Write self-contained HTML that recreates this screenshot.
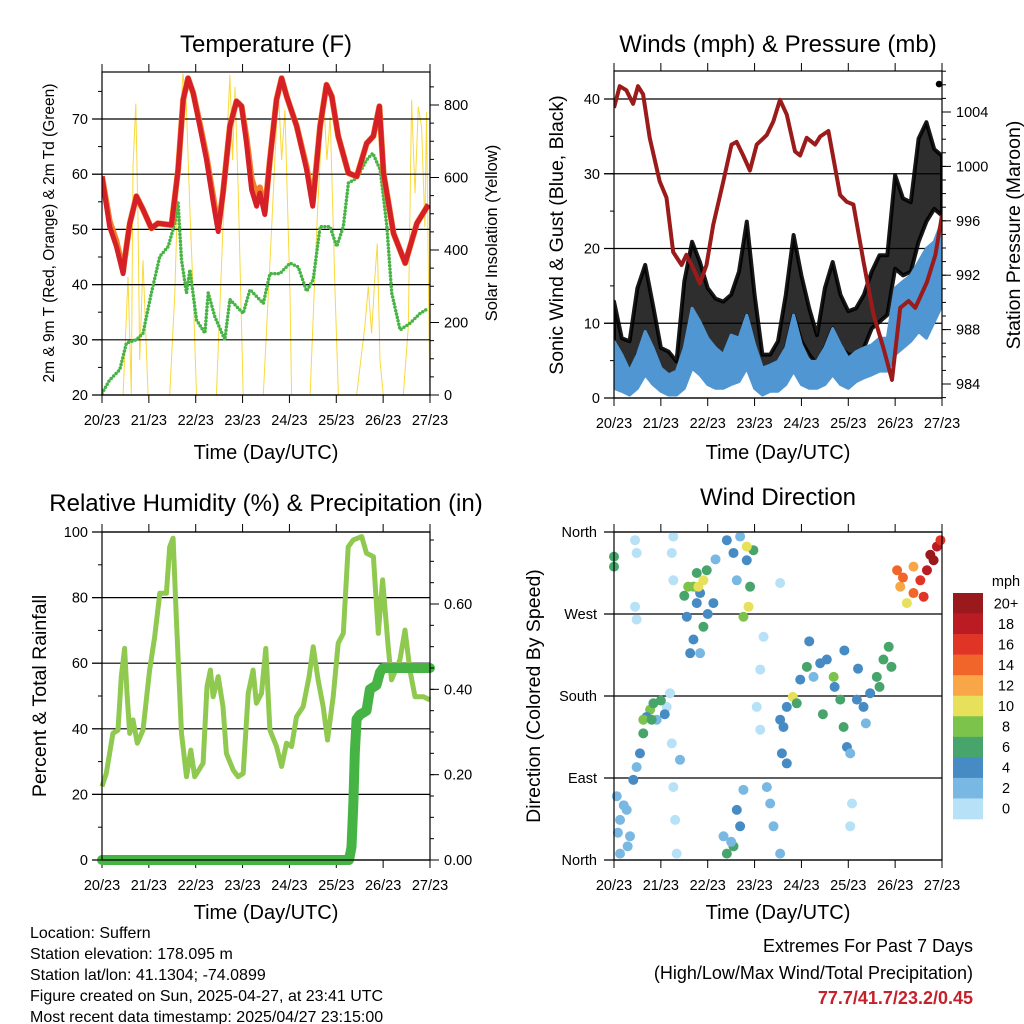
<!DOCTYPE html>
<html><head><meta charset="utf-8"><style>
html,body{margin:0;padding:0;background:#fff;}
svg{display:block;font-family:"Liberation Sans",Arial,sans-serif;}
</style></head><body>
<svg id="fig" width="1024" height="1024" viewBox="0 0 1024 1024" xmlns="http://www.w3.org/2000/svg">
<rect width="1024" height="1024" fill="#fff"/>
<text x="266" y="52" font-size="24" text-anchor="middle">Temperature (F)</text>
<text x="778" y="52" font-size="24" text-anchor="middle">Winds (mph) &amp; Pressure (mb)</text>
<text x="266" y="511" font-size="24" text-anchor="middle">Relative Humidity (%) &amp; Precipitation (in)</text>
<text x="778" y="505" font-size="24" text-anchor="middle">Wind Direction</text>
<text x="266" y="459" font-size="20" text-anchor="middle">Time (Day/UTC)</text>
<text x="778" y="459" font-size="20" text-anchor="middle">Time (Day/UTC)</text>
<text x="266" y="919" font-size="20" text-anchor="middle">Time (Day/UTC)</text>
<text x="778" y="919" font-size="20" text-anchor="middle">Time (Day/UTC)</text>
<text transform="translate(54,233) rotate(-90)" font-size="15.5" text-anchor="middle">2m &amp; 9m T (Red, Orange) &amp; 2m Td (Green)</text>
<text transform="translate(497,233) rotate(-90)" font-size="16.5" text-anchor="middle">Solar Insolation (Yellow)</text>
<text transform="translate(563,235) rotate(-90)" font-size="19.5" text-anchor="middle">Sonic Wind &amp; Gust (Blue, Black)</text>
<text transform="translate(1020,235) rotate(-90)" font-size="19.5" text-anchor="middle">Station Pressure (Maroon)</text>
<text transform="translate(46,696) rotate(-90)" font-size="19.5" text-anchor="middle">Percent &amp; Total Rainfall</text>
<text transform="translate(540,696) rotate(-90)" font-size="19.5" text-anchor="middle">Direction (Colored By Speed)</text>
<g font-size="16">
<text x="30" y="938">Location: Suffern</text>
<text x="30" y="959">Station elevation: 178.095 m</text>
<text x="30" y="980">Station lat/lon: 41.1304; -74.0899</text>
<text x="30" y="1001">Figure created on Sun, 2025-04-27, at 23:41 UTC</text>
<text x="30" y="1022">Most recent data timestamp: 2025/04/27 23:15:00</text>
</g>
<g font-size="18" text-anchor="end">
<text x="973" y="952">Extremes For Past 7 Days</text>
<text x="973" y="979">(High/Low/Max Wind/Total Precipitation)</text>
<text x="973" y="1004" fill="#c4212b" font-weight="bold">77.7/41.7/23.2/0.45</text>
</g>
<g id="layer"></g>
</svg>
<script>
// ---------- DATA ----------
const dayLabels = ["20/23","21/23","22/23","23/23","24/23","25/23","26/23","27/23"];
const tempHours = [0,3.9,7.4,10.8,11.6,14.2,17.6,21,25.3,28.7,35.6,39,41.6,44.1,46.7,50.1,53.5,57,59.5,62,65.5,68.9,71.5,74,76.6,79.2,80.9,83.4,86,89.4,92,94.6,99.7,104.8,107.9,111.7,115,117.7,121,126.2,130.5,135.6,139,142.1,144.2,149.3,155.3,161.3,167.2];
const tempRed = [59.6,50.5,46.9,42,44.5,51,56,53.6,50.2,51.1,50.8,60.8,73.5,77.4,74.7,68.7,62.6,54.8,49.6,56.6,68.7,73.2,72.3,65.6,57.2,54.2,56.6,52.7,62.6,73.5,77.4,74.1,68.7,60.8,54.2,68.7,76.2,74.1,66.9,60.2,59.6,65.6,66.9,72.3,60.2,49.3,43.9,51.1,54.5];
const tempOrange = [59.6,51.5,47.9,42.5,44.5,51,56,53.6,50.2,51.1,50.8,60.8,73.5,77.4,74.7,69.2,63.2,55.8,50.2,56.6,68.7,73.2,72.3,66.6,59.2,56.2,57.6,53.2,62.6,73.5,77.4,74.1,68.7,61.3,54.7,68.7,76.2,74.1,66.9,60.2,59.6,65.6,66.9,72.3,60.2,49.3,43.9,51.1,54.5];
const dewHours = [0,3.9,9.1,12.5,17.6,21,25.3,29.6,33.9,37.3,39,40.7,43.3,45,48.4,52.7,54.4,57.8,62.9,65.5,72.3,75.8,82.6,86,91.1,96.3,100.5,104.8,108.2,111.7,116.8,120.2,123.6,126.2,130.5,135.6,138.7,142.5,145.9,148.4,152.7,157.8,163,167.2];
const dewF = [20.3,22.7,24.6,29.4,30,31.2,38.5,45.1,46.9,51.1,54.8,44.5,38.5,42.7,33.6,31.2,38.5,34.2,30,37.3,34.8,39.1,36.6,42,42,43.9,43.2,38.8,40.9,50.5,50.5,46.9,50.5,58.4,59.3,62.6,63.8,60.8,50.5,38.5,31.8,33,34.8,35.7];
const solarHours = [0,10.8,13.3,15,15.9,17.3,18.5,19.3,21,23.6,34.7,37.3,39.8,41.5,43.2,45,46.7,48.4,58.6,62,65.5,66.9,68.1,69.8,72.3,82.6,86.9,90.3,92,93.7,96.3,97.1,106.6,110,113.4,115.2,116.9,119.4,121.1,130.4,134.6,136.4,138.1,139.8,141,142.4,144.1,154.3,156.9,158.6,160.3,162,163.7,165.4,166.2,167.9];
const solarW = [0,0,326,4,630,804,464,96,372,0,0,280,740,887,804,510,280,0,0,464,883,648,850,556,0,0,464,850,648,786,280,0,0,464,832,648,768,280,0,0,188,299,170,326,418,96,0,0,188,814,556,795,740,464,780,0];
const windHours = [0,4,8,12,16,20,24,28,32,36,40,44,48,52,56,60,64,68,72,76,80,84,88,92,96,100,104,108,112,116,120,124,128,132,136,140,144,148,152,156,160,164,168];
const windHi = [7.6,5.8,3.6,5.8,8.9,6.7,4,3.1,3.6,6.7,12,10.2,8,6.7,5.8,8.4,8,11.1,7.1,4,4.4,4.9,6.7,11.1,7.1,4.9,4.9,6.7,9.3,7.1,5.3,6.2,6.7,7.1,8,8,14.7,15.6,16.4,18.2,20,20.9,23.6];
const windLo = [1.3,0.9,0.4,1.3,3.1,1.8,0.9,0.4,0.4,1.3,4,3.1,1.8,1.3,1.3,1.8,2.2,4,1.3,0.4,0.9,0.9,1.8,3.6,1.8,1.3,1.3,1.8,3.1,1.8,1.3,2.2,2.7,3.1,3.6,3.6,5.8,6.7,7.6,8.9,8,10.2,12.4];
const gustHi = [12.9,8,7.6,14.7,17.8,12.4,6.7,6.2,4.9,15.6,20.9,18.2,14.7,13.3,12.9,13.8,16.9,23.6,13.8,5.8,5.8,7.6,13.8,21.8,16.4,12,8.4,14.7,18.2,13.8,11.6,12,13.8,16.9,19.1,19.1,29.8,26.7,26.2,34.7,36.9,33.3,32.4];
const gustLo = [3.6,2.2,1.8,5.8,7.6,4.9,2.7,2.2,2.2,5.8,11.1,8.4,6.7,5.8,5.8,6.7,7.6,11.1,5.8,2.7,2.7,3.1,6.7,11.1,7.6,5.8,4.4,6.7,9.3,6.7,5.8,5.8,6.7,9.3,10.2,11.1,17.3,16.4,16.9,20.9,23.6,25.3,24.4];
const gustPeakHours = [166.5];
const gustPeakMph = [42];
const presHours = [0,2.9,6.3,9.8,12.3,14.9,18.3,23.4,26.9,30.3,34.6,37.1,40.6,44,47.4,50.8,56,60.2,62.8,66.2,69.6,73.1,78.2,81.6,85,88.5,92.7,95.3,98.7,103,105.6,109.8,115.8,119.2,122.6,127.8,132.9,138.1,142.4,146.6,150.9,154.3,160.3,164.6,168];
const presMb = [1004.3,1005.9,1005.6,1004.6,1005.9,1005.3,1002.1,998.9,997.7,993.7,992.75,993.5,992.5,991.4,992.75,995.7,998.9,1001.6,1001.8,1000.8,999.7,1001.6,1002.3,1003.3,1004.9,1003.8,1001.1,1000.8,1002.1,1001.6,1002.2,1002.6,997.9,997.4,997.2,993,989.1,986.6,984.3,989.6,990.1,989.6,991.5,993.5,996.4];
const rhHours = [0,2.2,5.6,8.2,9.9,11.6,12.8,14.2,15.9,18.1,21,24.4,27,29.6,33,34.7,36.4,38.1,40.7,43.3,45.5,47.5,51.8,53.8,55.5,56.9,59.5,62,63.7,67.2,69.7,72.3,74.9,77.4,79.1,81.7,83.9,86,89.4,92,94.5,97.1,99.6,103,106.1,108.2,110.7,113.3,115.5,118.4,121,123.6,126.1,128.7,133,135.5,139,141.5,143.7,146.6,148.3,152.6,155.2,157.7,160.3,164.6,168];
const rhPct = [22.4,26.4,38.6,39.6,55.9,64.5,50.8,38.6,42.7,35.6,39.6,57.9,68.1,81.3,81.3,95.5,98.1,73.2,38.6,25.4,33.5,25.4,29.5,52.8,57.9,49.8,55.9,46.7,32.5,27.4,25.4,26.4,50.8,57.9,47.8,50.8,64.5,39.6,34.6,28.5,35.6,34.6,43.7,46.7,55.9,65,54.9,46.7,36.6,49.8,66.1,69.1,95.5,97.6,98.6,93.5,92.5,69.1,85.4,65,54.9,61,70.1,57.9,49.8,49.8,48.8];
const rainHours = [0,126.5,127.8,128.7,129.5,130.4,132,135.5,137.2,140.6,142.4,144,168];
const rainIn = [0,0,0.03,0.13,0.25,0.33,0.34,0.35,0.40,0.41,0.44,0.45,0.45];
const dirHours = [3.1,6.5,3.1,9.9,11.6,8.2,1.4,13.3,0,0,10.8,11.6,10.8,11.6,15,18.5,16.7,20.2,21.9,27,15,19.3,28.7,29.6,30.4,31.3,32.1,33.8,30.4,29.6,30.4,37.3,39,40.7,42.4,44.1,45.8,42.4,40.7,44.1,50.9,47.5,43.2,45.8,57.8,61.2,64.6,68,69.7,68.9,71.4,62.9,68,66.3,56.1,57.8,61.2,64.6,62.9,66.3,74.9,73.1,74.9,76.6,85.1,78.3,80,81.7,85.1,86,86.8,88.5,91.6,93.6,95.4,98.8,102.2,105.6,109,112.5,115.9,117.6,119.3,121,121.9,121,124.4,127.8,131.2,134.6,138,140.7,142.1,88.5,85.1,145,146.6,150,153.4,156.9,160.3,163.7,165.4,167.2,153.4,158.6,148,162,2,5,7,24,26,36,38,48,52,60,100,107,113,118,125,129,136];
const dirDeg = [44,55,7,88,102,26,70,117,333,322,351,337,278,264,139,165,157,172,154,168,154,154,183,128,80,44,7,110,307,337,355,267,227,300,315,293,256,282,242,227,282,318,300,307,351,337,355,329,300,278,340,307,344,267,26,7,15,37,55,77,143,168,209,245,304,80,62,37,7,117,146,168,179,172,198,212,201,216,220,201,176,146,124,117,62,37,176,168,183,201,220,234,212,106,154,318,300,282,293,307,318,329,344,351,322,289,310,335,30,60,15,175,160,290,300,270,330,20,240,160,190,230,210,150,190];
const dirMph = [2,2,2,4,2,2,2,4,6,6,1,1,1,1,6,8,4,6,2,1,8,6,1,1,1,1,1,2,1,1,1,4,4,8,6,4,6,4,4,2,4,6,10,10,4,4,2,4,6,10,6,2,10,8,2,6,6,4,4,2,1,1,1,1,1,2,2,2,2,4,4,4,10,6,4,6,2,4,4,8,6,6,4,2,1,1,4,4,4,6,6,6,6,4,4,14,12,10,14,16,18,20,18,16,12,16,14,20,2,2,2,6,4,6,8,4,2,2,4,6,4,4,4,2,6];
const spdBins = [0,2,4,6,8,10,12,14,16,18,20];
const spdColors = ["#b6e1f7","#7ab8e4","#468bc4","#47a56c","#7bc34a","#e7e05a","#f8a647","#f2652a","#df3426","#bb1c24","#99191c"];
const spdLabels = ["0","2","4","6","8","10","12","14","16","18","20+"];

// ---------- HELPERS ----------
const NS = "http://www.w3.org/2000/svg";
const layer = document.getElementById("layer");
function mk(tag, attrs, parent){
  const e = document.createElementNS(NS, tag);
  for (const k in attrs) e.setAttribute(k, attrs[k]);
  (parent || layer).appendChild(e);
  return e;
}
function lin(d0,d1,r0,r1){ return v => r0 + (v-d0)*(r1-r0)/(d1-d0); }
function pts(xs, ys, sx, sy){ return xs.map((h,i)=> sx(h).toFixed(1)+","+sy(ys[i]).toFixed(1)).join(" "); }

function panel(name, x0,y0,x1,y1){
  const g = mk("g", {});
  
  
  const sx = lin(0,168,x0,x1);
  for (let d=0; d<dayLabels.length; d++){
    const x = sx(d*24);
    mk("line",{x1:x,y1:y0-8,x2:x,y2:y0,stroke:"#000","stroke-width":1},g);
    mk("line",{x1:x,y1:y1,x2:x,y2:y1+8,stroke:"#000","stroke-width":1},g);
    const t = mk("text",{x:x,y:y1+30,"font-size":14.5,"text-anchor":"middle"},g);
    t.textContent = dayLabels[d];
    
    
  }
  return {g, sx};
}
function yAxis(g, side, x0, x1, sy, majors, labels, minors, labelOff){
  const xe = side==="left" ? x0 : x1;
  minors.forEach(v=>{
    const y = sy(v);
    mk("line",{x1:xe, y1:y, x2: side==="left"? xe-4 : xe+4, y2:y, stroke:"#000","stroke-width":1},g);
  });
  majors.forEach((v,i)=>{
    const y = sy(v);
    mk("line",{x1: side==="left"? xe-10 : xe, y1:y, x2: side==="left"? xe : xe+9, y2:y, stroke:"#000","stroke-width":1},g);
    const t = mk("text",{x: side==="left"? xe-labelOff : xe+labelOff, y:y+5,"font-size":14.5,"text-anchor": side==="left"?"end":"start"},g);
    t.textContent = labels[i];
    
    
  });
}
function grid(g, x0, x1, sy, vals){
  vals.forEach(v=>{ const y=sy(v); mk("line",{x1:x0,y1:y,x2:x1,y2:y,stroke:"#000","stroke-width":1.2},g); });
}
function frame(g,x0,y0,x1,y1){
  mk("rect",{x:x0,y:y0,width:x1-x0,height:y1-y0,fill:"none",stroke:"#000","stroke-width":1.2},g);
}
function range(a,b,s){ const r=[]; for(let v=a; v<=b+1e-9; v+=s) r.push(+v.toFixed(4)); return r; }

// ---------- PANEL 1: Temperature ----------
(function(){
  const x0=102,y0=72,x1=430,y1=395;
  const {g,sx} = panel("temperature-chart",x0,y0,x1,y1);
  const sy = lin(20,70,395,119);
  const ss = lin(0,800,395,105);
  const clip = mk("clipPath",{id:"c1"},g); mk("rect",{x:x0,y:y0,width:x1-x0,height:y1-y0},clip);
  const sol = mk("polyline",{points:pts(solarHours,solarW,sx,ss),fill:"none",stroke:"#f9d93c","stroke-width":1,"clip-path":"url(#c1)"},g);
  
  
  grid(g,x0-10,x1,sy,[20,30,40,50,60,70]);
  const dew = mk("polyline",{points:pts(dewHours,dewF,sx,sy),fill:"none",stroke:"#48b446","stroke-width":3.5,"stroke-dasharray":"0 3.5","stroke-linecap":"round","clip-path":"url(#c1)"},g);
  
  
  const org = mk("polyline",{points:pts(tempHours,tempOrange,sx,sy),fill:"none",stroke:"#f47f2a","stroke-width":6,"stroke-linejoin":"round","clip-path":"url(#c1)"},g);
  
  
  const red = mk("polyline",{points:pts(tempHours,tempRed,sx,sy),fill:"none",stroke:"#d42026","stroke-width":5,"stroke-linejoin":"round","clip-path":"url(#c1)"},g);
  
  
  frame(g,x0,y0,x1,y1);
  yAxis(g,"left",x0,x1,sy,[20,30,40,50,60,70],["20","30","40","50","60","70"],range(25,75,10),14);
  yAxis(g,"right",x0,x1,ss,[0,200,400,600,800],["0","200","400","600","800"],range(50,850,50),14);
})();

// ---------- PANEL 2: Winds & Pressure ----------
(function(){
  const x0=614,y0=71,x1=942,y1=398;
  const {g,sx} = panel("winds-pressure-chart",x0,y0,x1,y1);
  const sy = lin(0,40,398,99);
  const sp = lin(984,1004,384,112);
  const clip = mk("clipPath",{id:"c2"},g); mk("rect",{x:x0,y:y0,width:x1-x0,height:y1-y0},clip);
  grid(g,x0-10,x1,sy,[0,10,20,30,40]);
  const gb = mk("polygon",{points:pts(windHours,gustHi,sx,sy)+" "+pts(windHours.slice().reverse(),gustLo.slice().reverse(),sx,sy),fill:"#000","fill-opacity":0.82,stroke:"#000","stroke-width":4,"stroke-opacity":0.9,"stroke-linejoin":"round","clip-path":"url(#c2)"},g);
  
  
  gustPeakHours.forEach((h,i)=>{
    const c = mk("circle",{cx:sx(h),cy:sy(gustPeakMph[i]),r:3.3,fill:"#000"},g);
    
    
  });
  const wb = mk("polygon",{points:pts(windHours,windHi,sx,sy)+" "+pts(windHours.slice().reverse(),windLo.slice().reverse(),sx,sy),fill:"#4f96d2",stroke:"#4f96d2","stroke-width":3,"stroke-linejoin":"round","clip-path":"url(#c2)"},g);
  
  
  const pr = mk("polyline",{points:pts(presHours,presMb,sx,sp),fill:"none",stroke:"#9b1b1b","stroke-width":4,"stroke-linejoin":"round","clip-path":"url(#c2)"},g);
  
  
  frame(g,x0,y0,x1,y1);
  yAxis(g,"left",x0,x1,sy,[0,10,20,30,40],["0","10","20","30","40"],range(5,40,5),14);
  yAxis(g,"right",x0,x1,sp,[984,988,992,996,1000,1004],["984","988","992","996","1000","1004"],range(983,1007,1),14);
})();

// ---------- PANEL 3: RH & Precip ----------
(function(){
  const x0=102,y0=532,x1=430,y1=860;
  const {g,sx} = panel("humidity-precip-chart",x0,y0,x1,y1);
  const sy = lin(0,100,860,532);
  const sr = lin(0,0.6,860,604);
  grid(g,x0-10,x1,sy,[0,20,40,60,80,100]);
  const rh = mk("polyline",{points:pts(rhHours,rhPct,sx,sy),fill:"none",stroke:"#8fc94f","stroke-width":5,"stroke-linejoin":"round"},g);
  
  
  const rn = mk("polyline",{points:pts(rainHours,rainIn,sx,sr),fill:"none",stroke:"#46b445","stroke-width":10,"stroke-linejoin":"round","stroke-linecap":"round"},g);
  
  
  frame(g,x0,y0,x1,y1);
  yAxis(g,"left",x0,x1,sy,[0,20,40,60,80,100],["0","20","40","60","80","100"],range(10,90,20),14);
  yAxis(g,"right",x0,x1,sr,[0,0.2,0.4,0.6],["0.00","0.20","0.40","0.60"],range(0.05,0.75,0.05),14);
})();

// ---------- PANEL 4: Wind direction ----------
(function(){
  const x0=614,y0=532,x1=942,y1=860;
  const {g,sx} = panel("wind-direction-chart",x0,y0,x1,y1);
  const sy = lin(0,360,860,532);
  grid(g,x0-10,x1,sy,[0,90,180,270,360]);
  function colorFor(s){ let k=0; for(let i=0;i<spdBins.length;i++){ if(s>=spdBins[i]) k=i; } return spdColors[k]; }
  dirHours.forEach((h,i)=>{
    const c = mk("circle",{cx:sx(h),cy:sy(dirDeg[i]),r:5,fill:colorFor(dirMph[i])},g);
    
    
  });
  frame(g,x0,y0,x1,y1);
  yAxis(g,"left",x0,x1,sy,[0,90,180,270,360],["North","East","South","West","North"],[],17);
  const cb = mk("g",{},layer);
  
  
  const bh = (819-593)/spdColors.length;
  const mt = mk("text",{x:1006,y:586,"font-size":14.5,"text-anchor":"middle"},cb); mt.textContent="mph";
  for (let i=0;i<spdColors.length;i++){
    const idx = spdColors.length-1-i;
    const y = 593 + i*bh;
    const r = mk("rect",{x:953,y:y,width:30,height:bh+0.3,fill:spdColors[idx]},cb);
    
    
    const t = mk("text",{x:1006,y:y+bh/2+5,"font-size":14.5,"text-anchor":"middle"},cb);
    t.textContent = spdLabels[idx];
  }
})();
</script>
</body></html>
